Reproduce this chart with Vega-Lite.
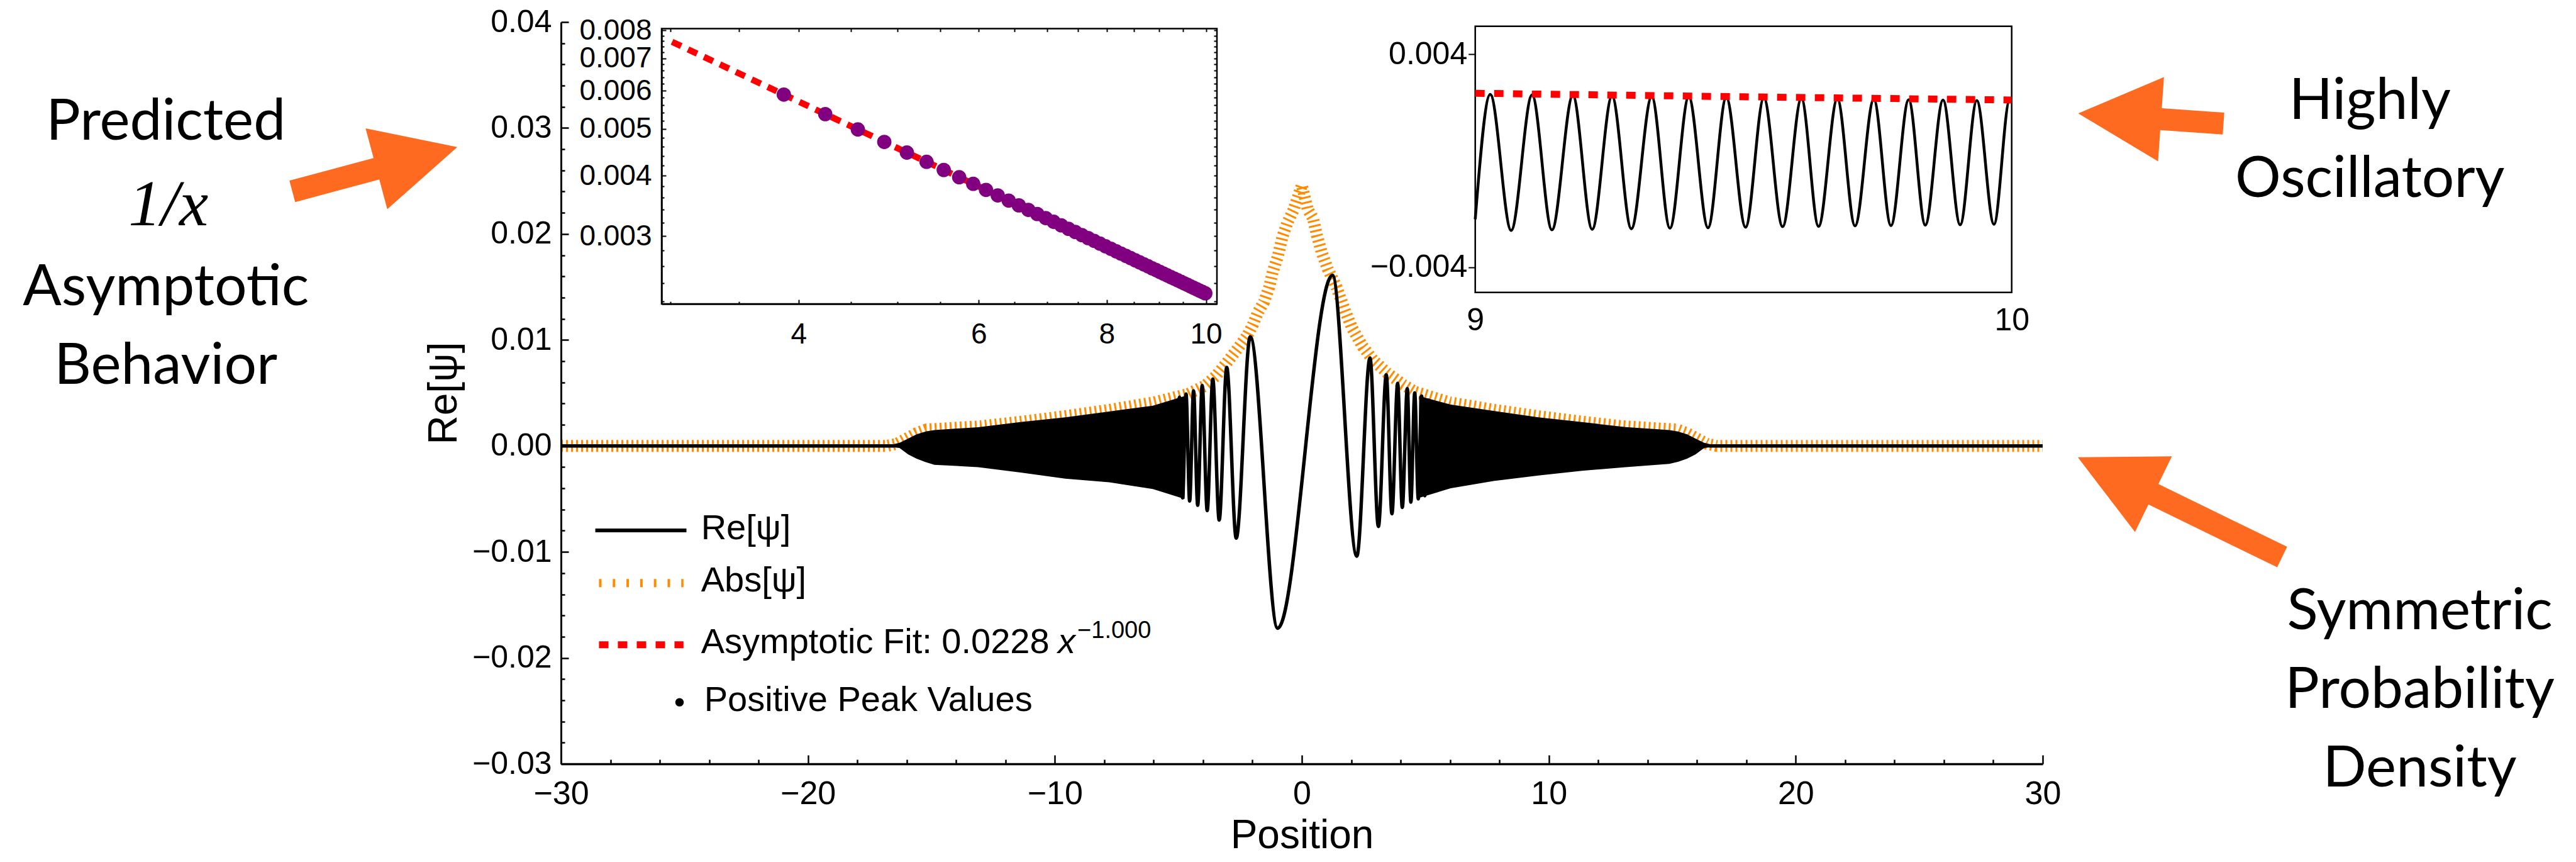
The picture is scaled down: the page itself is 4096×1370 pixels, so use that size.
{
"$schema": "https://vega.github.io/schema/vega-lite/v6.json",
"width": 2356, "height": 1179,
"autosize": {"type": "none"},
"padding": {"left": 892, "top": 35, "right": 848, "bottom": 156},
"background": "white",
"config": {"view": {"stroke": null},
 "axis": {"grid": false, "domainColor": "black", "tickColor": "black", "labelColor": "black", "titleColor": "black", "labelFont": "Liberation Sans", "titleFont": "Liberation Sans", "titleFontWeight": "normal", "labelFlush": false, "labelOverlap": false, "labelBound": false}},
"resolve": {"scale": {"x": "independent", "y": "independent"}, "axis": {"x": "independent", "y": "independent"}},
"datasets": {
 "abs": [{"x":-30,"y":0},{"x":-16.8,"y":0},{"x":-16.4,"y":0.0002},{"x":-16.0,"y":0.0007},{"x":-15.6,"y":0.0012},{"x":-15.2,"y":0.00155},{"x":-14.8,"y":0.0016},{"x":-13.0,"y":0.00185},{"x":-11.3,"y":0.0023},{"x":-9.6,"y":0.0028},{"x":-7.8,"y":0.0034},{"x":-6.0,"y":0.0041},{"x":-4.6,"y":0.0049},{"x":-3.91,"y":0.0057},{"x":-3.48,"y":0.0066},{"x":-3.06,"y":0.0078},{"x":-2.56,"y":0.0093},{"x":-2.21,"y":0.0104},{"x":-1.99,"y":0.0114},{"x":-1.78,"y":0.0126},{"x":-1.53,"y":0.0136},{"x":-1.32,"y":0.015},{"x":-1.18,"y":0.0164},{"x":-0.97,"y":0.0179},{"x":-0.79,"y":0.0197},{"x":-0.58,"y":0.0211},{"x":-0.33,"y":0.0223},{"x":0.0,"y":0.0246},{"x":0.24,"y":0.0223},{"x":0.45,"y":0.0215},{"x":0.62,"y":0.0198},{"x":0.8,"y":0.0183},{"x":1.05,"y":0.0167},{"x":1.4,"y":0.015},{"x":1.76,"y":0.0127},{"x":2.04,"y":0.0111},{"x":2.46,"y":0.0094},{"x":2.89,"y":0.0081},{"x":3.45,"y":0.0069},{"x":4.09,"y":0.0058},{"x":4.59,"y":0.0051},{"x":6.0,"y":0.0041},{"x":7.8,"y":0.0034},{"x":9.6,"y":0.0028},{"x":11.3,"y":0.0023},{"x":13.0,"y":0.00185},{"x":14.8,"y":0.0016},{"x":15.2,"y":0.00155},{"x":15.6,"y":0.0012},{"x":16.0,"y":0.0007},{"x":16.4,"y":0.0002},{"x":16.8,"y":0},{"x":30,"y":0}],
 "env": [{"x":-16.65,"lo":-0.0001,"hi":0.0001,"s":"L"},{"x":-16.29,"lo":-0.0002,"hi":0.0003,"s":"L"},{"x":-15.94,"lo":-0.0008,"hi":0.0007,"s":"L"},{"x":-15.6,"lo":-0.0012,"hi":0.0011,"s":"L"},{"x":-15.23,"lo":-0.00153,"hi":0.00137,"s":"L"},{"x":-14.88,"lo":-0.00178,"hi":0.0015,"s":"L"},{"x":-13.11,"lo":-0.002,"hi":0.00177,"s":"L"},{"x":-11.34,"lo":-0.00252,"hi":0.00227,"s":"L"},{"x":-9.58,"lo":-0.00309,"hi":0.0027,"s":"L"},{"x":-7.8,"lo":-0.00343,"hi":0.00325,"s":"L"},{"x":-6.03,"lo":-0.00407,"hi":0.0038,"s":"L"},{"x":-4.75,"lo":-0.005,"hi":0.0047,"s":"L"},
  {"x":4.75,"lo":-0.0049,"hi":0.0047,"s":"R"},{"x":6.03,"lo":-0.004,"hi":0.0039,"s":"R"},{"x":7.8,"lo":-0.0033,"hi":0.0033,"s":"R"},{"x":9.58,"lo":-0.0028,"hi":0.0027,"s":"R"},{"x":11.34,"lo":-0.00235,"hi":0.00225,"s":"R"},{"x":13.11,"lo":-0.002,"hi":0.00178,"s":"R"},{"x":14.88,"lo":-0.0017,"hi":0.0015,"s":"R"},{"x":15.23,"lo":-0.0015,"hi":0.00137,"s":"R"},{"x":15.6,"lo":-0.0012,"hi":0.0011,"s":"R"},{"x":15.94,"lo":-0.0008,"hi":0.0007,"s":"R"},{"x":16.29,"lo":-0.0002,"hi":0.0003,"s":"R"},{"x":16.65,"lo":-0.0001,"hi":0.0001,"s":"R"}],
 "re": [{"x":-30,"y":0,"s":"l"},{"x":-16.5,"y":0,"s":"l"},
  {"x":-5.081,"y":-0.0047,"s":"c"},{"x":-4.957,"y":0.0046,"s":"c"},{"x":-4.827,"y":-0.0049,"s":"c"},{"x":-4.689,"y":0.0049,"s":"c"},{"x":-4.543,"y":-0.0052,"s":"c"},{"x":-4.385,"y":0.0052,"s":"c"},{"x":-4.217,"y":-0.0056,"s":"c"},{"x":-4.034,"y":0.0057,"s":"c"},{"x":-3.832,"y":-0.0061,"s":"c"},{"x":-3.606,"y":0.0063,"s":"c"},{"x":-3.347,"y":-0.007,"s":"c"},{"x":-3.041,"y":0.0074,"s":"c"},{"x":-2.657,"y":-0.0087,"s":"c"},{"x":-2.09,"y":0.0103,"s":"c"},{"x":-0.979,"y":-0.0172,"s":"c"},{"x":1.24,"y":0.0161,"s":"c"},{"x":2.227,"y":-0.0104,"s":"c"},{"x":2.76,"y":0.0083,"s":"c"},{"x":3.1,"y":-0.0076,"s":"c"},{"x":3.42,"y":0.0067,"s":"c"},{"x":3.648,"y":-0.0064,"s":"c"},{"x":3.88,"y":0.0059,"s":"c"},{"x":4.068,"y":-0.0058,"s":"c"},{"x":4.27,"y":0.0054,"s":"c"},{"x":4.415,"y":-0.0053,"s":"c"},{"x":4.571,"y":0.005,"s":"c"},{"x":4.716,"y":-0.005,"s":"c"},{"x":4.851,"y":0.0047,"s":"c"},{"x":4.98,"y":-0.0047,"s":"c"},{"x":5.104,"y":0.00447,"s":"c"},
  {"x":16.5,"y":0,"s":"r"},{"x":30,"y":0,"s":"r"}],
 "peaks": [{"x":3.87,"y":0.005891},{"x":4.248,"y":0.005367},{"x":4.571,"y":0.004988},{"x":4.851,"y":0.0047},{"x":5.104,"y":0.004467},{"x":5.335,"y":0.004274},{"x":5.545,"y":0.004112},{"x":5.741,"y":0.003971},{"x":5.925,"y":0.003848},{"x":6.098,"y":0.003739},{"x":6.261,"y":0.003642},{"x":6.417,"y":0.003553},{"x":6.565,"y":0.003473},{"x":6.707,"y":0.003399},{"x":6.843,"y":0.003332},{"x":6.974,"y":0.003269},{"x":7.1,"y":0.003211},{"x":7.222,"y":0.003157},{"x":7.34,"y":0.003106},{"x":7.454,"y":0.003059},{"x":7.565,"y":0.003014},{"x":7.673,"y":0.002971},{"x":7.777,"y":0.002932},{"x":7.879,"y":0.002894},{"x":7.979,"y":0.002857},{"x":8.076,"y":0.002823},{"x":8.171,"y":0.00279},{"x":8.263,"y":0.002759},{"x":8.353,"y":0.00273},{"x":8.442,"y":0.002701},{"x":8.529,"y":0.002673},{"x":8.614,"y":0.002647},{"x":8.698,"y":0.002621},{"x":8.78,"y":0.002597},{"x":8.86,"y":0.002573},{"x":8.939,"y":0.002551},{"x":9.016,"y":0.002529},{"x":9.092,"y":0.002508},{"x":9.167,"y":0.002487},{"x":9.241,"y":0.002467},{"x":9.314,"y":0.002448},{"x":9.385,"y":0.002429},{"x":9.456,"y":0.002411},{"x":9.525,"y":0.002394},{"x":9.593,"y":0.002377},{"x":9.661,"y":0.00236},{"x":9.727,"y":0.002344},{"x":9.793,"y":0.002328},{"x":9.857,"y":0.002313},{"x":9.921,"y":0.002298},{"x":9.985,"y":0.002283}],
 "zre": [{"x":9.0,"y":-0.0022},{"x":9.028,"y":0.00249},{"x":9.067,"y":-0.00262},{"x":9.106,"y":0.00247},{"x":9.143,"y":-0.0026},{"x":9.182,"y":0.00245},{"x":9.218,"y":-0.00258},{"x":9.255,"y":0.00243},{"x":9.291,"y":-0.00256},{"x":9.329,"y":0.00241},{"x":9.363,"y":-0.00254},{"x":9.398,"y":0.0024},{"x":9.434,"y":-0.00252},{"x":9.468,"y":0.00238},{"x":9.504,"y":-0.0025},{"x":9.538,"y":0.00236},{"x":9.573,"y":-0.00248},{"x":9.608,"y":0.00234},{"x":9.64,"y":-0.00247},{"x":9.675,"y":0.00233},{"x":9.708,"y":-0.00245},{"x":9.743,"y":0.00231},{"x":9.775,"y":-0.00244},{"x":9.808,"y":0.00229},{"x":9.839,"y":-0.00242},{"x":9.872,"y":0.00228},{"x":9.904,"y":-0.00241},{"x":9.935,"y":0.00226},{"x":9.967,"y":-0.00239},{"x":9.996,"y":0.00225},{"x":10.0,"y":0.00224}]
},
"layer": [
 {"layer": [
  {"data": {"name": "abs"},
   "mark": {"type": "line", "color": "#ff8c00", "strokeWidth": 19, "strokeDash": [3, 5], "strokeCap": "butt"},
   "encoding": {
    "x": {"field": "x", "type": "quantitative", "scale": {"domain": [-30, 30], "nice": false, "zero": false}, "axis": null},
    "y": {"field": "y", "type": "quantitative", "scale": {"domain": [-0.03, 0.04], "nice": false, "zero": false}, "axis": null}
   }},
  {"data": {"name": "env"},
   "mark": {"type": "area", "color": "black", "opacity": 1},
   "encoding": {
    "x": {"field": "x", "type": "quantitative", "scale": {"domain": [-30, 30], "nice": false, "zero": false}, "axis": null},
    "y": {"field": "lo", "type": "quantitative", "scale": {"domain": [-0.03, 0.04], "nice": false, "zero": false}, "axis": null},
    "y2": {"field": "hi"},
    "detail": {"field": "s"}
   }},
  {"data": {"name": "re"},
   "mark": {"type": "line", "color": "black", "strokeWidth": 5.5, "interpolate": "monotone"},
   "encoding": {
    "x": {"field": "x", "type": "quantitative", "scale": {"domain": [-30, 30], "nice": false, "zero": false}, "axis": null},
    "y": {"field": "y", "type": "quantitative", "scale": {"domain": [-0.03, 0.04], "nice": false, "zero": false}, "axis": null},
    "detail": {"field": "s"}
   }},
  {"data": {"values": [{"x": -28.61, "x2": -24.92, "y": -0.00797}]},
   "mark": {"type": "rule", "color": "black", "strokeWidth": 6},
   "encoding": {
    "x": {"field": "x", "type": "quantitative", "scale": {"domain": [-30, 30], "nice": false, "zero": false}, "axis": null},
    "x2": {"field": "x2"},
    "y": {"field": "y", "type": "quantitative", "scale": {"domain": [-0.03, 0.04], "nice": false, "zero": false}, "axis": null}
   }},
  {"data": {"values": [{"x": -28.46, "x2": -25.04, "y": -0.01295}]},
   "mark": {"type": "rule", "color": "#ff8c00", "strokeWidth": 13, "strokeDash": [4, 17.8], "strokeCap": "butt"},
   "encoding": {
    "x": {"field": "x", "type": "quantitative", "scale": {"domain": [-30, 30], "nice": false, "zero": false}, "axis": null},
    "x2": {"field": "x2"},
    "y": {"field": "y", "type": "quantitative", "scale": {"domain": [-0.03, 0.04], "nice": false, "zero": false}, "axis": null}
   }},
  {"data": {"values": [{"x": -28.46, "x2": -25.04, "y": -0.01876}]},
   "mark": {"type": "rule", "color": "#ff0000", "strokeWidth": 11, "strokeDash": [15, 15], "strokeCap": "butt"},
   "encoding": {
    "x": {"field": "x", "type": "quantitative", "scale": {"domain": [-30, 30], "nice": false, "zero": false}, "axis": null},
    "x2": {"field": "x2"},
    "y": {"field": "y", "type": "quantitative", "scale": {"domain": [-0.03, 0.04], "nice": false, "zero": false}, "axis": null}
   }},
  {"data": {"values": [{"x": -25.2, "y": -0.02419}]},
   "mark": {"type": "point", "shape": "circle", "filled": true, "color": "black", "size": 180, "opacity": 1},
   "encoding": {
    "x": {"field": "x", "type": "quantitative", "scale": {"domain": [-30, 30], "nice": false, "zero": false}, "axis": null},
    "y": {"field": "y", "type": "quantitative", "scale": {"domain": [-0.03, 0.04], "nice": false, "zero": false}, "axis": null}
   }},
  {"data": {"values": [{"t": "Re[ψ]", "x": -24.33, "y": -0.0088}, {"t": "Abs[ψ]", "x": -24.33, "y": -0.01373}, {"t": "Asymptotic Fit: 0.0228", "x": -24.33, "y": -0.01955}, {"t": "Positive Peak Values", "x": -24.2, "y": -0.02501}]},
   "mark": {"type": "text", "font": "Liberation Sans", "fontSize": 56, "align": "left", "baseline": "alphabetic", "color": "black"},
   "encoding": {
    "x": {"field": "x", "type": "quantitative", "scale": {"domain": [-30, 30], "nice": false, "zero": false}, "axis": null},
    "y": {"field": "y", "type": "quantitative", "scale": {"domain": [-0.03, 0.04], "nice": false, "zero": false}, "axis": null},
    "text": {"field": "t"}
   }},
  {"data": {"values": [{"t": "x", "x": -9.88, "y": -0.01955}]},
   "mark": {"type": "text", "font": "Liberation Sans", "fontStyle": "italic", "fontSize": 56, "align": "left", "baseline": "alphabetic", "color": "black"},
   "encoding": {
    "x": {"field": "x", "type": "quantitative", "scale": {"domain": [-30, 30], "nice": false, "zero": false}, "axis": null},
    "y": {"field": "y", "type": "quantitative", "scale": {"domain": [-0.03, 0.04], "nice": false, "zero": false}, "axis": null},
    "text": {"field": "t"}
   }},
  {"data": {"values": [{"t": "−1.000", "x": -9.09, "y": -0.01813}]},
   "mark": {"type": "text", "font": "Liberation Sans", "fontSize": 38, "align": "left", "baseline": "alphabetic", "color": "black"},
   "encoding": {
    "x": {"field": "x", "type": "quantitative", "scale": {"domain": [-30, 30], "nice": false, "zero": false}, "axis": null},
    "y": {"field": "y", "type": "quantitative", "scale": {"domain": [-0.03, 0.04], "nice": false, "zero": false}, "axis": null},
    "text": {"field": "t"}
   }},
  {"data": {"values": [{"t": "Predicted", "x": -46.0, "y": 0.02887}, {"t": "Asymptotic", "x": -46.0, "y": 0.0133}, {"t": "Behavior", "x": -46.0, "y": 0.005873}, {"t": "Highly", "x": 43.25, "y": 0.03085}, {"t": "Oscillatory", "x": 43.25, "y": 0.02348}, {"t": "Symmetric", "x": 45.27, "y": -0.01732}, {"t": "Probability", "x": 45.27, "y": -0.02474}, {"t": "Density", "x": 45.27, "y": -0.03211}]},
   "mark": {"type": "text", "font": "Lato", "fontSize": 91, "align": "center", "baseline": "alphabetic", "color": "black"},
   "encoding": {
    "x": {"field": "x", "type": "quantitative", "scale": {"domain": [-30, 30], "nice": false, "zero": false}, "axis": null},
    "y": {"field": "y", "type": "quantitative", "scale": {"domain": [-0.03, 0.04], "nice": false, "zero": false}, "axis": null},
    "text": {"field": "t"}
   }},
  {"data": {"values": [{"t": "1/x", "x": -45.9, "y": 0.02081}]},
   "mark": {"type": "text", "font": "Liberation Serif", "fontStyle": "italic", "fontSize": 104, "align": "center", "baseline": "alphabetic", "color": "black"},
   "encoding": {
    "x": {"field": "x", "type": "quantitative", "scale": {"domain": [-30, 30], "nice": false, "zero": false}, "axis": null},
    "y": {"field": "y", "type": "quantitative", "scale": {"domain": [-0.03, 0.04], "nice": false, "zero": false}, "axis": null},
    "text": {"field": "t"}
   }},
  {"data": {"values": [{"x": -37.54, "y": 0.02611}]},
   "mark": {"type": "point", "shape": "M-1,-0.13L0.02,-0.13L0.02,-0.49L1,0L0.02,0.49L0.02,0.13L-1,0.13Z", "filled": true, "color": "#ff6a21", "opacity": 1, "size": 73766, "angle": 345, "strokeWidth": 0},
   "encoding": {
    "x": {"field": "x", "type": "quantitative", "scale": {"domain": [-30, 30], "nice": false, "zero": false}, "axis": null},
    "y": {"field": "y", "type": "quantitative", "scale": {"domain": [-0.03, 0.04], "nice": false, "zero": false}, "axis": null}
   }},
  {"data": {"values": [{"x": 34.38, "y": 0.0309}]},
   "mark": {"type": "point", "shape": "M-1,-0.15L-0.14,-0.15L-0.14,-0.58L1,0L-0.14,0.58L-0.14,0.15L-1,0.15Z", "filled": true, "color": "#ff6a21", "opacity": 1, "size": 53640, "angle": 184, "strokeWidth": 0},
   "encoding": {
    "x": {"field": "x", "type": "quantitative", "scale": {"domain": [-30, 30], "nice": false, "zero": false}, "axis": null},
    "y": {"field": "y", "type": "quantitative", "scale": {"domain": [-0.03, 0.04], "nice": false, "zero": false}, "axis": null}
   }},
  {"data": {"values": [{"x": 35.56, "y": -0.00578}]},
   "mark": {"type": "point", "shape": "M-1,-0.1L0.26,-0.1L0.26,-0.37L1,0L0.26,0.37L0.26,0.1L-1,0.1Z", "filled": true, "color": "#ff6a21", "opacity": 1, "size": 130680, "angle": 206, "strokeWidth": 0},
   "encoding": {
    "x": {"field": "x", "type": "quantitative", "scale": {"domain": [-30, 30], "nice": false, "zero": false}, "axis": null},
    "y": {"field": "y", "type": "quantitative", "scale": {"domain": [-0.03, 0.04], "nice": false, "zero": false}, "axis": null}
   }}
 ]},
 {"data": {"values": [{"x": 0, "y": 0}]},
  "mark": {"type": "point", "opacity": 0},
  "encoding": {
   "x": {"field": "x", "type": "quantitative", "scale": {"domain": [-30, 30], "nice": false, "zero": false},
    "axis": {"orient": "bottom", "title": "Position", "values": [-30,-20,-10,0,10,20,30], "format": "d", "tickSize": -14, "tickWidth": 2.5, "domainWidth": 3.5, "labelPadding": 36, "labelFontSize": 52, "titleFontSize": 64, "titlePadding": 9, "zindex": 1}},
   "y": {"field": "y", "type": "quantitative", "scale": {"domain": [-0.03, 0.04], "nice": false, "zero": false},
    "axis": {"orient": "left", "title": "Re[ψ]", "values": [-0.03,-0.02,-0.01,0,0.01,0.02,0.03,0.04], "format": ".2f", "tickSize": -12, "tickWidth": 2.5, "domainWidth": 3, "labelPadding": 27, "labelFontSize": 50, "titleFontSize": 64, "titlePadding": 12, "zindex": 1}}
  }},
 {"data": {"values": [{"x": 0, "y": 0}]},
  "mark": {"type": "point", "opacity": 0},
  "encoding": {
   "x": {"field": "x", "type": "quantitative", "scale": {"domain": [-30, 30], "nice": false, "zero": false},
    "axis": {"orient": "bottom", "title": null, "values": [-28,-26,-24,-22,-18,-16,-14,-12,-8,-6,-4,-2,2,4,6,8,12,14,16,18,22,24,26,28], "labels": false, "domain": false, "tickSize": -7, "tickWidth": 2.5, "zindex": 1}},
   "y": {"field": "y", "type": "quantitative", "scale": {"domain": [-0.03, 0.04], "nice": false, "zero": false},
    "axis": {"orient": "left", "title": null, "values": [-0.028,-0.026,-0.024,-0.022,-0.018,-0.016,-0.014,-0.012,-0.008,-0.006,-0.004,-0.002,0.002,0.004,0.006,0.008,0.012,0.014,0.016,0.018,0.022,0.024,0.026,0.028,0.032,0.034,0.036,0.038], "labels": false, "domain": false, "tickSize": -6, "tickWidth": 2.5, "zindex": 1}}
  }},
 {"layer": [
  {"data": {"values": [{"a": 1}]},
   "mark": {"type": "rect", "fill": "white", "stroke": "black", "strokeWidth": 2.5},
   "encoding": {
    "x": {"datum": 2.94, "type": "quantitative", "scale": {"type": "log", "domain": [2.94, 10.25], "range": [160, 1043], "nice": false}, "axis": null},
    "x2": {"datum": 10.25},
    "y": {"datum": 0.00217, "type": "quantitative", "scale": {"type": "log", "domain": [0.00217, 0.00807], "range": [448.1, 10.4], "nice": false}, "axis": null},
    "y2": {"datum": 0.00807}
   }},
  {"data": {"values": [{"x": 3.01, "y": 0.007575}, {"x": 10.0, "y": 0.00228}]},
   "mark": {"type": "line", "color": "#ff0000", "strokeWidth": 10, "strokeDash": [16, 12], "strokeCap": "butt"},
   "encoding": {
    "x": {"field": "x", "type": "quantitative", "scale": {"type": "log", "domain": [2.94, 10.25], "range": [160, 1043], "nice": false}, "axis": null},
    "y": {"field": "y", "type": "quantitative", "scale": {"type": "log", "domain": [0.00217, 0.00807], "range": [448.1, 10.4], "nice": false}, "axis": null}
   }},
  {"data": {"name": "peaks"},
   "mark": {"type": "point", "shape": "circle", "filled": true, "color": "#800080", "size": 520, "opacity": 1},
   "encoding": {
    "x": {"field": "x", "type": "quantitative", "scale": {"type": "log", "domain": [2.94, 10.25], "range": [160, 1043], "nice": false}, "axis": null},
    "y": {"field": "y", "type": "quantitative", "scale": {"type": "log", "domain": [0.00217, 0.00807], "range": [448.1, 10.4], "nice": false}, "axis": null}
   }}
 ]},
 {"data": {"values": [{"x": 5, "y": 0.004}]},
  "mark": {"type": "point", "opacity": 0},
  "encoding": {
   "x": {"field": "x", "type": "quantitative", "scale": {"type": "log", "domain": [2.94, 10.25], "range": [160, 1043], "nice": false},
    "axis": {"orient": "bottom", "offset": -730.9, "title": null, "values": [4, 6, 8, 10], "format": "d", "tickSize": -7, "tickWidth": 2, "domainWidth": 2.5, "labelPadding": 33, "labelFontSize": 46, "zindex": 1}},
   "y": {"field": "y", "type": "quantitative", "scale": {"type": "log", "domain": [0.00217, 0.00807], "range": [448.1, 10.4], "nice": false},
    "axis": {"orient": "left", "offset": -160, "title": null, "values": [0.003, 0.004, 0.005, 0.006, 0.007, 0.008], "format": ".3f", "tickSize": -7, "tickWidth": 2, "domainWidth": 2.5, "labelPadding": 23, "labelFontSize": 46, "zindex": 1}}
  }},
 {"data": {"values": [{"x": 5, "y": 0.004}]},
  "mark": {"type": "point", "opacity": 0},
  "encoding": {
   "x": {"field": "x", "type": "quantitative", "scale": {"type": "log", "domain": [2.94, 10.25], "range": [160, 1043], "nice": false},
    "axis": {"orient": "bottom", "offset": -730.9, "title": null, "values": [3, 3.5, 4.5, 5, 5.5, 6.5, 7, 7.5, 8.5, 9, 9.5], "labels": false, "domain": false, "tickSize": -4, "tickWidth": 2, "zindex": 1}},
   "y": {"field": "y", "type": "quantitative", "scale": {"type": "log", "domain": [0.00217, 0.00807], "range": [448.1, 10.4], "nice": false},
    "axis": {"orient": "left", "offset": -160, "title": null, "values": [0.0022,0.0024,0.0026,0.0028,0.0032,0.0034,0.0036,0.0038,0.0042,0.0044,0.0046,0.0048,0.0052,0.0054,0.0056,0.0058,0.0062,0.0064,0.0066,0.0068,0.0072,0.0074,0.0076,0.0078], "labels": false, "domain": false, "tickSize": -4, "tickWidth": 2, "zindex": 1}}
  }},
 {"data": {"values": [{"x": 5, "y": 0.004}]},
  "mark": {"type": "point", "opacity": 0},
  "encoding": {
   "x": {"field": "x", "type": "quantitative", "scale": {"type": "log", "domain": [2.94, 10.25], "range": [160, 1043], "nice": false},
    "axis": {"orient": "top", "offset": -10.4, "title": null, "values": [3, 3.5, 4, 4.5, 5, 5.5, 6, 6.5, 7, 7.5, 8, 8.5, 9, 9.5, 10], "labels": false, "domain": false, "tickSize": -5, "tickWidth": 2, "zindex": 1}},
   "y": {"field": "y", "type": "quantitative", "scale": {"type": "log", "domain": [0.00217, 0.00807], "range": [448.1, 10.4], "nice": false},
    "axis": {"orient": "right", "offset": -1313, "title": null, "values": [0.0022,0.0024,0.0026,0.0028,0.003,0.0032,0.0034,0.0036,0.0038,0.004,0.0042,0.0044,0.0046,0.0048,0.005,0.0052,0.0054,0.0056,0.0058,0.006,0.0062,0.0064,0.0066,0.0068,0.007,0.0072,0.0074,0.0076,0.0078,0.008], "labels": false, "domain": false, "tickSize": -5, "tickWidth": 2, "zindex": 1}}
  }},
 {"layer": [
  {"data": {"values": [{"a": 1}]},
   "mark": {"type": "rect", "fill": "white", "stroke": "black", "strokeWidth": 2.5},
   "encoding": {
    "x": {"datum": 9, "type": "quantitative", "scale": {"domain": [9, 10], "range": [1453.7, 2306.7], "nice": false, "zero": false}, "axis": null},
    "x2": {"datum": 10},
    "y": {"datum": -0.00495, "type": "quantitative", "scale": {"domain": [-0.00495, 0.00505], "range": [429.8, 6.7], "nice": false, "zero": false}, "axis": null},
    "y2": {"datum": 0.00505}
   }},
  {"data": {"name": "zre"},
   "mark": {"type": "line", "color": "black", "strokeWidth": 4.5, "interpolate": "monotone"},
   "encoding": {
    "x": {"field": "x", "type": "quantitative", "scale": {"domain": [9, 10], "range": [1453.7, 2306.7], "nice": false, "zero": false}, "axis": null},
    "y": {"field": "y", "type": "quantitative", "scale": {"domain": [-0.00495, 0.00505], "range": [429.8, 6.7], "nice": false, "zero": false}, "axis": null}
   }},
  {"data": {"values": [{"x": 9, "y": 0.002533}, {"x": 9.5, "y": 0.0024}, {"x": 10, "y": 0.00228}]},
   "mark": {"type": "line", "color": "#ff0000", "strokeWidth": 11, "strokeDash": [15, 15], "strokeCap": "butt"},
   "encoding": {
    "x": {"field": "x", "type": "quantitative", "scale": {"domain": [9, 10], "range": [1453.7, 2306.7], "nice": false, "zero": false}, "axis": null},
    "y": {"field": "y", "type": "quantitative", "scale": {"domain": [-0.00495, 0.00505], "range": [429.8, 6.7], "nice": false, "zero": false}, "axis": null}
   }}
 ]},
 {"data": {"values": [{"x": 9.5, "y": 0}]},
  "mark": {"type": "point", "opacity": 0},
  "encoding": {
   "x": {"field": "x", "type": "quantitative", "scale": {"domain": [9, 10], "range": [1453.7, 2306.7], "nice": false, "zero": false},
    "axis": {"orient": "bottom", "offset": -749.2, "title": null, "values": [9, 10], "format": "d", "ticks": false, "domain": false, "labelPadding": 20, "labelFontSize": 50, "zindex": 1}},
   "y": {"field": "y", "type": "quantitative", "scale": {"domain": [-0.00495, 0.00505], "range": [429.8, 6.7], "nice": false, "zero": false},
    "axis": {"orient": "left", "offset": -1453.7, "title": null, "values": [-0.004, 0.004], "format": ".3f", "tickSize": 11, "tickWidth": 2, "domain": false, "labelPadding": 2, "labelFontSize": 50, "zindex": 1}}
  }}
]
}
